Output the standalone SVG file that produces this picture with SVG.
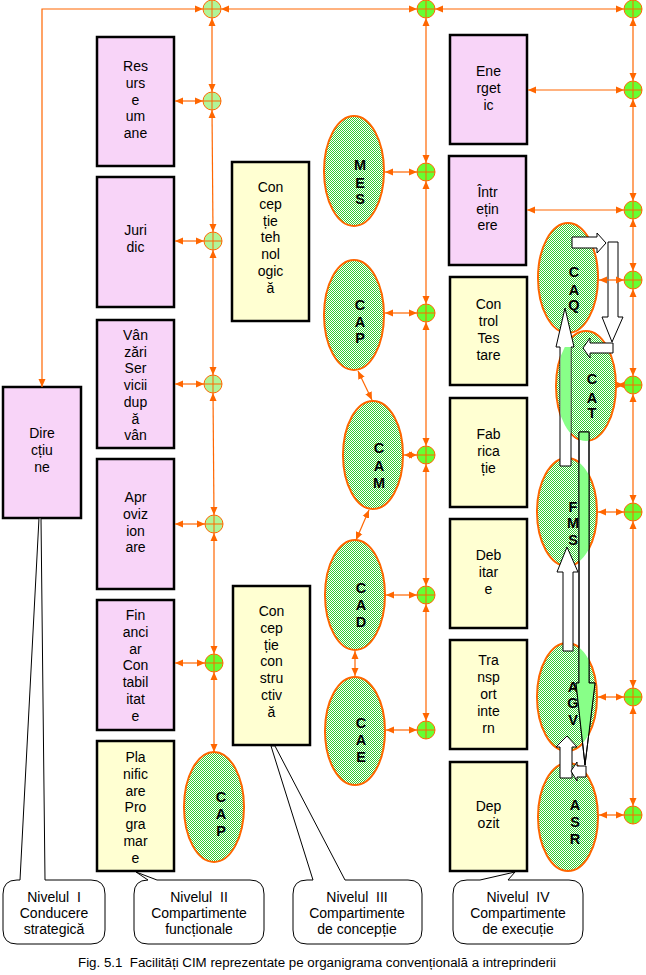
<svg xmlns="http://www.w3.org/2000/svg" xmlns:xlink="http://www.w3.org/1999/xlink" width="646" height="975" viewBox="0 0 646 975">
<defs>
<pattern id="gr" width="2" height="2" patternUnits="userSpaceOnUse"><rect width="2" height="2" fill="#fff"/><rect width="1" height="1" fill="#33cc33"/><rect x="1" y="1" width="1" height="1" fill="#33cc33"/></pattern>
<marker id="a" markerWidth="8" markerHeight="8" refX="8" refY="4" orient="auto-start-reverse" markerUnits="userSpaceOnUse"><path d="M0,0.5 L8,4 L0,7.5 z" fill="#ff6600"/></marker>
<g id="js"><circle r="9" fill="#66ff33" stroke="#ff6600" stroke-width="1"/><path d="M-9,0 H9 M0,-9 V9" stroke="#ff6600" stroke-width="1"/></g>
<g id="jd"><circle r="9" fill="#b0f598" stroke="#ff6600" stroke-width="1"/><path d="M-9,0 H9 M0,-9 V9" stroke="#ff6600" stroke-width="1"/></g>
<clipPath id="cCAT"><ellipse cx="586" cy="386" rx="30" ry="55"/></clipPath>
<clipPath id="cE"><ellipse cx="586" cy="386" rx="30" ry="55"/><ellipse cx="567" cy="512" rx="30" ry="54"/><ellipse cx="567" cy="697" rx="30" ry="54"/></clipPath>
<polygon id="a5" points="579,432 589,432 589,683 595,683 585,765 576,683 579,683"/>
</defs>
<style>
.box{stroke:#000;stroke-width:2.5}
.pink{fill:#f8d4f8}
.yel{fill:#ffffd2}
.ell{fill:url(#gr);stroke:#ff6600;stroke-width:2}
.t{font-family:"Liberation Sans",Arial,sans-serif;font-size:14px;text-anchor:middle;fill:#000}
.b{font-family:"Liberation Sans",Arial,sans-serif;font-size:14.5px;font-weight:bold;text-anchor:middle;fill:#000}
#conn line,#conn polyline{stroke:#ff6600;stroke-width:1.2;fill:none;marker-start:url(#a);marker-end:url(#a)}
.fat{fill:#fff;stroke:#000;stroke-width:1}
.call{fill:#fff;stroke:#000;stroke-width:1}
</style>
<rect width="646" height="975" fill="#fff"/>

<!-- Level I -->
<g id="directiune"><rect class="box pink" x="3" y="387" width="78" height="131"/>
<text class="t"><tspan x="42" y="438">Dire</tspan><tspan x="42" y="455">cțiu</tspan><tspan x="42" y="472">ne</tspan></text></g>

<!-- Level II boxes -->
<g id="resurse"><rect class="box pink" x="97" y="37" width="77" height="129"/>
<text class="t"><tspan x="135.5" y="71">Res</tspan><tspan x="135.5" y="88">urs</tspan><tspan x="135.5" y="104.6">e</tspan><tspan x="135.5" y="121.4">um</tspan><tspan x="135.5" y="138.2">ane</tspan></text></g>
<g id="juridic"><rect class="box pink" x="97" y="177" width="77" height="130"/>
<text class="t"><tspan x="135.5" y="235">Juri</tspan><tspan x="135.5" y="252">dic</tspan></text></g>
<g id="vanzari"><rect class="box pink" x="97" y="320" width="77" height="128"/>
<text class="t"><tspan x="135.5" y="340">Vân</tspan><tspan x="135.5" y="356.7">zări</tspan><tspan x="135.5" y="373.4">Ser</tspan><tspan x="135.5" y="390.1">vicii</tspan><tspan x="135.5" y="406.8">dup</tspan><tspan x="135.5" y="423.5">ă</tspan><tspan x="135.5" y="440.2">vân</tspan></text></g>
<g id="aprovizionare"><rect class="box pink" x="97" y="459" width="77" height="130"/>
<text class="t"><tspan x="135.5" y="502">Apr</tspan><tspan x="135.5" y="518.8">oviz</tspan><tspan x="135.5" y="535.6">ion</tspan><tspan x="135.5" y="552.4">are</tspan></text></g>
<g id="financiar"><rect class="box pink" x="97" y="600" width="77" height="130"/>
<text class="t"><tspan x="135.5" y="620">Fin</tspan><tspan x="135.5" y="636.8">anci</tspan><tspan x="135.5" y="653.6">ar</tspan><tspan x="135.5" y="670.4">Con</tspan><tspan x="135.5" y="687.2">tabil</tspan><tspan x="135.5" y="704">itat</tspan><tspan x="135.5" y="720.8">e</tspan></text></g>
<g id="planificare"><rect class="box yel" x="97" y="741" width="77" height="130"/>
<text class="t"><tspan x="135.5" y="762">Pla</tspan><tspan x="135.5" y="778.8">nific</tspan><tspan x="135.5" y="795.6">are</tspan><tspan x="135.5" y="812.4">Pro</tspan><tspan x="135.5" y="829.2">gra</tspan><tspan x="135.5" y="846">mar</tspan><tspan x="135.5" y="862.8">e</tspan></text></g>
<g id="cap1"><ellipse class="ell" cx="214" cy="807" rx="30" ry="55"/>
<text class="b"><tspan x="221" y="802">C</tspan><tspan x="221" y="819">A</tspan><tspan x="221" y="836">P</tspan></text></g>

<!-- Level III -->
<g id="conceptie-tehnologica"><rect class="box yel" x="232" y="162" width="77" height="159"/>
<text class="t"><tspan x="270.5" y="192">Con</tspan><tspan x="270.5" y="208.8">cep</tspan><tspan x="270.5" y="225.6">ție</tspan><tspan x="270.5" y="242.4">teh</tspan><tspan x="270.5" y="259.2">nol</tspan><tspan x="270.5" y="276">ogic</tspan><tspan x="270.5" y="292.8">ă</tspan></text></g>
<g id="conceptie-constructiva"><rect class="box yel" x="233" y="586" width="77" height="159"/>
<text class="t"><tspan x="271.5" y="616">Con</tspan><tspan x="271.5" y="632.8">cep</tspan><tspan x="271.5" y="649.6">ție</tspan><tspan x="271.5" y="666.4">con</tspan><tspan x="271.5" y="683.2">stru</tspan><tspan x="271.5" y="700">ctiv</tspan><tspan x="271.5" y="716.8">ă</tspan></text></g>
<g id="mes"><ellipse class="ell" cx="354" cy="171" rx="30" ry="55"/>
<text class="b"><tspan x="360" y="170">M</tspan><tspan x="360" y="188">E</tspan><tspan x="360" y="204">S</tspan></text></g>
<g id="cap2"><ellipse class="ell" cx="354" cy="315" rx="30" ry="55"/>
<text class="b"><tspan x="360" y="310">C</tspan><tspan x="360" y="327">A</tspan><tspan x="360" y="343">P</tspan></text></g>
<g id="cam"><ellipse class="ell" cx="373" cy="455" rx="30" ry="54"/>
<text class="b"><tspan x="379" y="453">C</tspan><tspan x="379" y="471">A</tspan><tspan x="379" y="488">M</tspan></text></g>
<g id="cad"><ellipse class="ell" cx="355" cy="595" rx="30" ry="55"/>
<text class="b"><tspan x="361" y="593">C</tspan><tspan x="361" y="610">A</tspan><tspan x="361" y="627">D</tspan></text></g>
<g id="cae"><ellipse class="ell" cx="355" cy="731" rx="30" ry="54"/>
<text class="b"><tspan x="361" y="728">C</tspan><tspan x="361" y="745">A</tspan><tspan x="361" y="762">E</tspan></text></g>

<!-- Level IV -->
<g id="energetic"><rect class="box pink" x="450" y="35" width="77" height="109"/>
<text class="t"><tspan x="488.5" y="76">Ene</tspan><tspan x="488.5" y="93">rget</tspan><tspan x="488.5" y="110">ic</tspan></text></g>
<g id="intretinere"><rect class="box pink" x="449" y="156" width="77" height="109"/>
<text class="t"><tspan x="487.5" y="197">Într</tspan><tspan x="487.5" y="213.5">ețin</tspan><tspan x="487.5" y="230">ere</tspan></text></g>
<g id="control"><rect class="box yel" x="450" y="277" width="77" height="108"/>
<text class="t"><tspan x="488.5" y="309">Con</tspan><tspan x="488.5" y="326">trol</tspan><tspan x="488.5" y="343">Tes</tspan><tspan x="488.5" y="360">tare</tspan></text></g>
<g id="fabricatie"><rect class="box yel" x="450" y="398" width="77" height="109"/>
<text class="t"><tspan x="488.5" y="439">Fab</tspan><tspan x="488.5" y="456">rica</tspan><tspan x="488.5" y="473">ție</tspan></text></g>
<g id="debitare"><rect class="box yel" x="450" y="519" width="77" height="109"/>
<text class="t"><tspan x="488.5" y="560">Deb</tspan><tspan x="488.5" y="577">itar</tspan><tspan x="488.5" y="594">e</tspan></text></g>
<g id="transport"><rect class="box yel" x="450" y="640" width="77" height="109"/>
<text class="t"><tspan x="488.5" y="665">Tra</tspan><tspan x="488.5" y="682">nsp</tspan><tspan x="488.5" y="699">ort</tspan><tspan x="488.5" y="716">inte</tspan><tspan x="488.5" y="733">rn</tspan></text></g>
<g id="depozit"><rect class="box yel" x="450" y="762" width="77" height="109"/>
<text class="t"><tspan x="488.5" y="811">Dep</tspan><tspan x="488.5" y="828">ozit</tspan></text></g>

<g id="caq"><ellipse class="ell" cx="568" cy="278" rx="30" ry="55"/>
<text class="b"><tspan x="574" y="277">C</tspan><tspan x="574" y="295">A</tspan><tspan x="574" y="310">Q</tspan></text></g>
<g id="cat"><ellipse class="ell" cx="586" cy="386" rx="30" ry="55"/>
<text class="b"><tspan x="592" y="384">C</tspan><tspan x="592" y="403">A</tspan><tspan x="592" y="418">T</tspan></text></g>
<g id="fms"><ellipse class="ell" cx="567" cy="512" rx="30" ry="54"/>
<text class="b"><tspan x="573" y="512">F</tspan><tspan x="573" y="528">M</tspan><tspan x="573" y="545">S</tspan></text></g>
<g id="agv"><ellipse class="ell" cx="567" cy="697" rx="30" ry="54"/>
<text class="b"><tspan x="573" y="692">A</tspan><tspan x="573" y="708">G</tspan><tspan x="573" y="725">V</tspan></text></g>
<g id="asr"><ellipse class="ell" cx="568" cy="817" rx="30" ry="54"/>
<text class="b"><tspan x="575" y="810">A</tspan><tspan x="575" y="827">S</tspan><tspan x="575" y="844">R</tspan></text></g>

<!-- material flow block arrows -->
<g id="flow">
<polygon class="fat" points="572,237 597,237 597,233 606,243 597,253 597,248 572,248"/>
<polygon class="fat" points="608,242 618,242 618,317 623,317 612,342 602,317 608,317"/>
<polygon class="fat" points="613,343 590,343 590,338 583,348 590,358 590,353 613,353"/>
<polygon class="fat" points="560,466 560,347 556,347 565,308 574,347 571,347 571,466"/>
<rect x="560.5" y="347" width="10" height="118.5" fill="#88ff88" clip-path="url(#cCAT)"/>
<use xlink:href="#a5" class="fat"/>
<use xlink:href="#a5" fill="#88ff88" stroke="none" clip-path="url(#cE)"/>
<use xlink:href="#a5" fill="none" stroke="#000" stroke-width="1"/>
<polygon class="fat" points="563,651 563,572 557,572 567,547 578,572 573,572 573,651"/>
<polygon class="fat" points="560,778 560,747 556,747 567,736 577,747 572,747 572,778"/>
<polygon class="fat" points="586,766 577,766 577,762 571,771 577,781 577,777 586,777"/>
</g>

<!-- connectors -->
<g id="conn">
<polyline points="203,9 42,9 42,387"/>
<line x1="221" y1="9" x2="417" y2="9"/>
<line x1="435" y1="9" x2="624" y2="9"/>
<line x1="212" y1="18" x2="212" y2="92"/>
<line x1="212" y1="110" x2="213" y2="232"/>
<line x1="213" y1="250" x2="213" y2="375"/>
<line x1="213" y1="393" x2="214" y2="515"/>
<line x1="214" y1="533" x2="214" y2="654"/>
<line x1="214" y1="672" x2="214" y2="752"/>
<line x1="203" y1="101" x2="175" y2="101"/>
<line x1="204" y1="241" x2="175" y2="241"/>
<line x1="204" y1="384" x2="175" y2="384"/>
<line x1="205" y1="524" x2="175" y2="524"/>
<line x1="205" y1="663" x2="175" y2="663"/>
<line x1="426" y1="18" x2="426" y2="163"/>
<line x1="426" y1="181" x2="426" y2="304"/>
<line x1="426" y1="322" x2="426" y2="446"/>
<line x1="426" y1="464" x2="426" y2="586"/>
<line x1="426" y1="604" x2="426" y2="721"/>
<line x1="385" y1="172" x2="417" y2="172"/>
<line x1="385" y1="313" x2="417" y2="313"/>
<line x1="404" y1="455" x2="417" y2="455"/>
<line x1="386" y1="595" x2="417" y2="595"/>
<line x1="386" y1="730" x2="417" y2="730"/>
<line x1="358" y1="371" x2="372" y2="400"/>
<line x1="369" y1="510" x2="356" y2="540"/>
<line x1="355" y1="651" x2="355" y2="676"/>
<line x1="633" y1="18" x2="633" y2="81"/>
<line x1="633" y1="99" x2="633" y2="201"/>
<line x1="633" y1="219" x2="633" y2="271"/>
<line x1="633" y1="289" x2="633" y2="376"/>
<line x1="633" y1="394" x2="633" y2="503"/>
<line x1="633" y1="521" x2="633" y2="688"/>
<line x1="633" y1="706" x2="633" y2="806"/>
<line x1="528" y1="90" x2="624" y2="90"/>
<line x1="527" y1="210" x2="624" y2="210"/>
<line x1="599" y1="280" x2="624" y2="280"/>
<line x1="617" y1="385" x2="624" y2="385"/>
<line x1="598" y1="512" x2="624" y2="512"/>
<line x1="598" y1="697" x2="624" y2="697"/>
<line x1="599" y1="815" x2="624" y2="815"/>
</g>

<!-- junctions -->
<g id="junctions">
<use xlink:href="#jd" x="212" y="9"/>
<use xlink:href="#jd" x="212" y="101"/>
<use xlink:href="#jd" x="213" y="241"/>
<use xlink:href="#jd" x="213" y="384"/>
<use xlink:href="#jd" x="214" y="524"/>
<use xlink:href="#js" x="214" y="663"/>
<use xlink:href="#js" x="426" y="9"/>
<use xlink:href="#js" x="426" y="172"/>
<use xlink:href="#js" x="426" y="313"/>
<use xlink:href="#js" x="426" y="455"/>
<use xlink:href="#js" x="426" y="595"/>
<use xlink:href="#js" x="426" y="730"/>
<use xlink:href="#js" x="633" y="9"/>
<use xlink:href="#js" x="633" y="90"/>
<use xlink:href="#js" x="633" y="210"/>
<use xlink:href="#js" x="633" y="280"/>
<use xlink:href="#js" x="633" y="385"/>
<use xlink:href="#js" x="633" y="512"/>
<use xlink:href="#js" x="633" y="697"/>
<use xlink:href="#js" x="633" y="815"/>
</g>

<!-- callouts -->
<g id="nivel1"><path class="call" d="M20,880 L39,518 L41,518 L45,880 L91,880 Q105,880 105,894 L105,930 Q105,944 91,944 L17,944 Q3,944 3,930 L3,894 Q3,880 17,880 Z"/>
<text class="t" style="white-space:pre"><tspan x="54" y="902">Nivelul  I</tspan><tspan x="54" y="918">Conducere</tspan><tspan x="54" y="934">strategică</tspan></text></g>
<g id="nivel2"><path class="call" d="M148,880 L136,872 L157,880 L250,880 Q264,880 264,894 L264,930 Q264,944 250,944 L148,944 Q134,944 134,930 L134,894 Q134,880 148,880 Z"/>
<text class="t" style="white-space:pre"><tspan x="199" y="902">Nivelul  II</tspan><tspan x="199" y="918">Compartimente</tspan><tspan x="199" y="934">funcționale</tspan></text></g>
<g id="nivel3"><path class="call" d="M313,880 L271,746 L275,746 L345,880 L408,880 Q422,880 422,894 L422,930 Q422,944 408,944 L307,944 Q293,944 293,930 L293,894 Q293,880 307,880 Z"/>
<text class="t" style="white-space:pre"><tspan x="357" y="902">Nivelul  III</tspan><tspan x="357" y="918">Compartimente</tspan><tspan x="357" y="934">de concepție</tspan></text></g>
<g id="nivel4"><path class="call" d="M480,880 L515,872 L508,880 L569,880 Q583,880 583,894 L583,930 Q583,944 569,944 L467,944 Q453,944 453,930 L453,894 Q453,880 467,880 Z"/>
<text class="t" style="white-space:pre"><tspan x="518" y="902">Nivelul  IV</tspan><tspan x="518" y="918">Compartimente</tspan><tspan x="518" y="934">de execuție</tspan></text></g>

<text x="78" y="967" font-family="'Liberation Sans',Arial,sans-serif" font-size="12.5" fill="#000" textLength="478" lengthAdjust="spacingAndGlyphs" style="white-space:pre">Fig. 5.1  Facilități CIM reprezentate pe organigrama convențională a intreprinderii</text>
</svg>
